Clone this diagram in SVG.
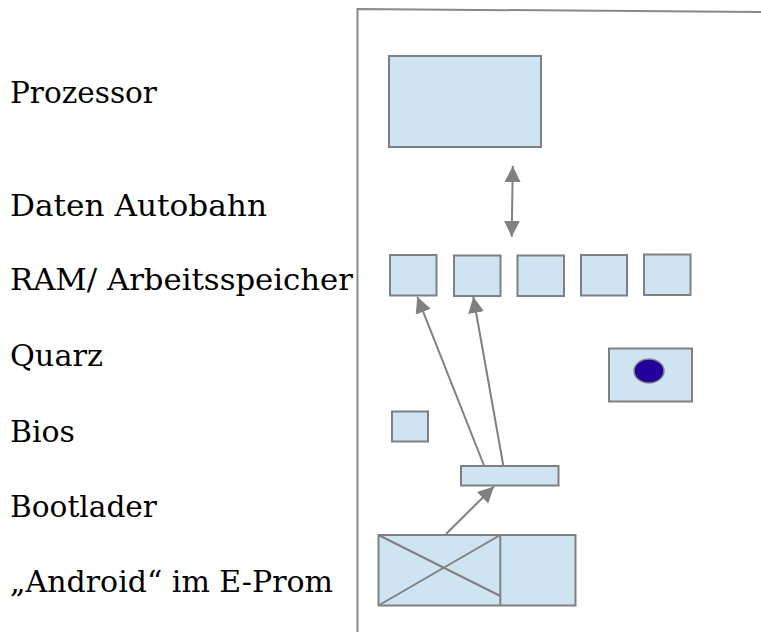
<svg xmlns="http://www.w3.org/2000/svg" width="761" height="632" viewBox="0 0 761 632">
  <defs>
    <style>
      .lbl { font-family: "DejaVu Serif", "Liberation Serif", serif; font-size: 29px; fill: #000; }
      .box { fill: #cfe4f3; stroke: #808080; stroke-width: 2; }
      .line { stroke: #808080; stroke-width: 2; fill: none; }
      .frame { stroke: #888; stroke-width: 2; fill: none; }
    </style>
    <marker id="arrowBig" viewBox="0 0 10 10" refX="10" refY="5" markerWidth="16" markerHeight="16" markerUnits="userSpaceOnUse" orient="auto-start-reverse">
      <path d="M0,0 L10,5 L0,10 Z" fill="#808080"/>
    </marker>
  </defs>
  <rect width="761" height="632" fill="#fff"/>

  <!-- labels -->
  <g id="labels">
    <text class="lbl" x="10" y="103" textLength="147" lengthAdjust="spacingAndGlyphs">Prozessor</text>
    <text class="lbl" x="10" y="216" textLength="257" lengthAdjust="spacingAndGlyphs">Daten Autobahn</text>
    <text class="lbl" x="10" y="290" textLength="343" lengthAdjust="spacingAndGlyphs">RAM/ Arbeitsspeicher</text>
    <text class="lbl" x="10" y="366" textLength="93" lengthAdjust="spacingAndGlyphs">Quarz</text>
    <text class="lbl" x="10" y="442" textLength="65" lengthAdjust="spacingAndGlyphs">Bios</text>
    <text class="lbl" x="10" y="517" textLength="147" lengthAdjust="spacingAndGlyphs">Bootlader</text>
    <text class="lbl" x="10" y="592" textLength="323" lengthAdjust="spacingAndGlyphs">„Android“ im E-Prom</text>
  </g>

  <!-- board outline -->
  <g id="frame">
    <path class="frame" d="M357.5,632 L357.5,9 L761,12"/>
  </g>

  <g id="prozessor">
    <rect class="box" x="389" y="56" width="152" height="91"/>
  </g>

  <g id="ram">
    <rect class="box" x="390" y="255" width="46.5" height="40.5"/>
    <rect class="box" x="454" y="255.5" width="46.5" height="40.5"/>
    <rect class="box" x="517.5" y="255.5" width="46.5" height="40.5"/>
    <rect class="box" x="581" y="255" width="46" height="40.5"/>
    <rect class="box" x="644" y="254.5" width="46.5" height="40.5"/>
  </g>

  <g id="quarz">
    <rect class="box" x="609" y="348.5" width="83" height="53"/>
    <ellipse cx="649" cy="371" rx="15" ry="12" fill="#22009b" stroke="#8a8a8a" stroke-width="1.5"/>
  </g>

  <g id="bios">
    <rect class="box" x="392" y="411.5" width="36" height="30"/>
  </g>

  <g id="bootlader">
    <rect class="box" x="461" y="466" width="97.5" height="19.5"/>
  </g>

  <g id="android">
    <rect class="box" x="378.5" y="535" width="197" height="70.5"/>
    <line class="line" x1="500.3" y1="535" x2="500.3" y2="605.5"/>
    <line class="line" x1="378.5" y1="535" x2="500.3" y2="596"/>
    <line class="line" x1="378.5" y1="605.5" x2="500.3" y2="535"/>
  </g>

  <!-- connectors -->
  <g id="connectors">
    <line class="line" x1="512.8" y1="166" x2="511.7" y2="236.7" marker-start="url(#arrowBig)" marker-end="url(#arrowBig)"/>
    <line class="line" x1="484" y1="465.5" x2="417.3" y2="296.8" marker-end="url(#arrowBig)"/>
    <line class="line" x1="503.3" y1="465.5" x2="473.3" y2="296.8" marker-end="url(#arrowBig)"/>
    <line class="line" x1="446" y1="534" x2="494" y2="486.5" marker-end="url(#arrowBig)"/>
  </g>
</svg>
